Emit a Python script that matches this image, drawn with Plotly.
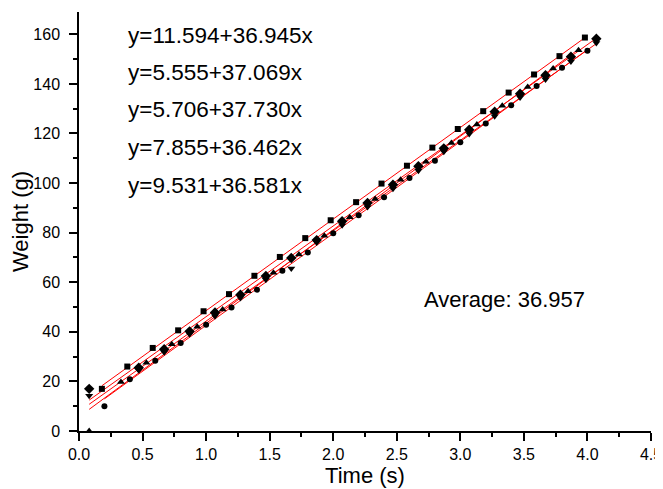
import plotly.graph_objects as go

# ---- data ----
x_sq = [0.18, 0.38, 0.58, 0.78, 0.98, 1.18, 1.38, 1.58, 1.78, 1.98,
        2.18, 2.38, 2.58, 2.78, 2.98, 3.18, 3.38, 3.58, 3.78, 3.98]
y_sq = [17.0, 26.0, 33.5, 40.6, 48.3, 55.2, 62.6, 70.2, 77.8, 85.0,
        92.3, 99.8, 107.0, 114.3, 121.8, 129.0, 136.5, 143.8, 151.2, 158.7]

x_ci = [0.2, 0.4, 0.6, 0.8, 1.0, 1.2, 1.4, 1.6, 1.8, 2.0,
        2.2, 2.4, 2.6, 2.8, 3.0, 3.2, 3.4, 3.6, 3.8, 4.0]
y_ci = [10.0, 20.9, 28.3, 35.5, 42.9, 49.8, 57.0, 64.6, 72.0, 79.8,
        87.0, 94.3, 102.0, 109.0, 116.5, 124.0, 131.4, 139.2, 146.5, 153.4]

x_tu = [0.08, 0.33, 0.53, 0.73, 0.93, 1.13, 1.33, 1.53, 1.73, 1.93,
        2.13, 2.33, 2.53, 2.73, 2.93, 3.13, 3.33, 3.53, 3.73, 3.93]
y_tu = [0.0, 19.8, 27.5, 35.0, 42.0, 49.0, 56.4, 63.8, 71.2, 78.8,
        86.2, 93.6, 101.3, 108.6, 116.2, 123.6, 131.2, 138.7, 146.2, 153.6]

x_td = [0.08, 0.47, 0.67, 0.87, 1.07, 1.27, 1.47, 1.67, 1.87, 2.07,
        2.27, 2.47, 2.67, 2.87, 3.07, 3.27, 3.47, 3.67, 3.87, 4.07]
y_td = [14.2, 24.5, 31.8, 39.0, 46.3, 53.6, 61.0, 65.5, 76.0, 83.0,
        90.3, 97.7, 105.0, 112.6, 119.8, 127.0, 134.5, 141.8, 149.0, 156.5]

x_di = [0.08, 0.47, 0.67, 0.87, 1.07, 1.27, 1.47, 1.67, 1.87, 2.07,
        2.27, 2.47, 2.67, 2.87, 3.07, 3.27, 3.47, 3.67, 3.87, 4.07]
y_di = [17.0, 25.5, 33.0, 40.2, 47.8, 55.0, 62.5, 69.8, 77.0, 84.6,
        92.0, 99.3, 106.8, 114.0, 121.5, 128.8, 136.0, 143.5, 151.0, 158.2]

intercepts = [11.594, 5.555, 5.706, 7.855, 9.531]
slopes = [36.945, 37.069, 37.730, 36.462, 36.581]
average_text = "Average: 36.957"

x_ticks = [0.0, 0.5, 1.0, 1.5, 2.0, 2.5, 3.0, 3.5, 4.0, 4.5]
y_ticks = [0, 20, 40, 60, 80, 100, 120, 140, 160]

series = [
    (x_sq, y_sq, "square", 6),
    (x_ci, y_ci, "circle", 6),
    (x_tu, y_tu, "triangle-up", 7),
    (x_td, y_td, "triangle-down", 7),
    (x_di, y_di, "diamond", 8),
]

FONT = "Liberation Sans, Arial, sans-serif"
fig = go.Figure()

# fitted lines
for (xs, ys, sym, sz), a, b in zip(series, intercepts, slopes):
    x0, x1 = min(xs), max(xs)
    fig.add_trace(go.Scatter(x=[x0, x1], y=[a + b * x0, a + b * x1],
                             mode="lines", line=dict(color="#ff0000", width=1),
                             showlegend=False, hoverinfo="skip"))

# points
for xs, ys, sym, sz in series:
    fig.add_trace(go.Scatter(x=xs, y=ys, mode="markers",
                             marker=dict(symbol=sym, size=sz, color="black",
                                         line=dict(width=0)),
                             showlegend=False))

# equation labels
eq_y = [159.7, 144.6, 129.5, 114.4, 99.2]
for a, b, yy in zip(intercepts, slopes, eq_y):
    fig.add_annotation(x=0.37, y=yy, xref="x", yref="y",
                       text=f"y={a:.3f}+{b:.3f}x", showarrow=False,
                       xanchor="left", yanchor="middle",
                       font=dict(family=FONT, size=22.5, color="black"))
fig.add_annotation(x=3.35, y=53.2, xref="x", yref="y", text=average_text,
                   showarrow=False, xanchor="center", yanchor="middle",
                   font=dict(family=FONT, size=22, color="black"))

axis_common = dict(showgrid=False, zeroline=False, showline=True,
                   linecolor="black", linewidth=1.5, ticks="outside",
                   ticklen=8, tickwidth=1.5, tickcolor="black",
                   automargin=False,
                   tickfont=dict(family=FONT, size=16, color="black"))

fig.update_xaxes(range=[0, 4.5], tickvals=x_ticks,
                 ticktext=[f"{v:.1f}" for v in x_ticks],
                 minor=dict(dtick=0.25, tick0=0, ticks="outside", ticklen=4,
                            tickwidth=1.5, tickcolor="black"),
                 title=dict(text="Time (s)", standoff=2,
                            font=dict(family=FONT, size=22, color="black")),
                 **axis_common)
fig.update_yaxes(range=[0, 169], tickvals=y_ticks,
                 ticktext=[str(v) for v in y_ticks],
                 ticklabelstandoff=6,
                 minor=dict(dtick=10, tick0=0, ticks="outside", ticklen=4,
                            tickwidth=1.5, tickcolor="black"),
                 title=dict(text="Weight (g)", standoff=2,
                            font=dict(family=FONT, size=22, color="black")),
                 **axis_common)

# page body has an 8px default margin; size the figure to fit the window
fig.update_layout(width=655, height=481,
                  margin=dict(l=71, r=12, t=4, b=58),
                  plot_bgcolor="white", paper_bgcolor="white",
                  font=dict(family=FONT, color="black"))

fig.write_html("out.html")
